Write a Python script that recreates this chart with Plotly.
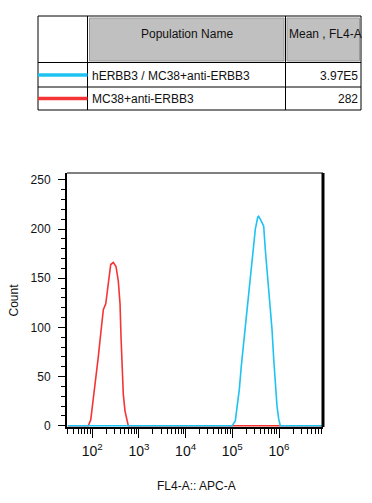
import plotly.graph_objects as go

# ---------------- data ----------------
populations = ["hERBB3 / MC38+anti-ERBB3", "MC38+anti-ERBB3"]
pop_means = ["3.97E5", "282"]
pop_colors = ["#1EC3F2", "#F53535"]
table_headers = ["Population Name", "Mean , FL4-A"]

# MC38+anti-ERBB3 histogram (FL4-A value, count)
red_x = [30, 82.5, 93, 100, 111, 121, 135, 147, 160, 173, 195, 211, 229, 249,
         283, 323, 362, 394, 414, 435, 463, 504, 548, 593, 8.7e6]
red_y = [0, 0, 6, 18, 32, 49, 70, 87, 103, 118, 124, 137, 154, 164,
         166, 162, 147, 124, 90, 63, 32, 15, 5, 0, 0]

# hERBB3 / MC38+anti-ERBB3 histogram
blue_x = [30, 98600, 115900, 126100, 141300, 155900, 175500, 196500, 224400,
          251400, 287000, 310900, 350000, 367600, 417600, 470100, 509200,
          573000, 651600, 708200, 770400, 834000, 906000, 985000, 1067000, 8.7e6]
blue_y = [0, 0, 5, 17, 37, 61, 85, 108, 132, 156, 186, 200, 212, 213, 208,
          203, 179, 152, 125, 98, 68, 44, 20, 7, 0, 0]

x_tickvals = [1e2, 1e3, 1e4, 1e5, 1e6]
x_ticktext = ["10<sup>2</sup>", "10<sup>3</sup>", "10<sup>4</sup>",
              "10<sup>5</sup>", "10<sup>6</sup>"]
y_tickvals = [0, 50, 100, 150, 200, 250]

# ---------------- layout geometry ----------------
W, H = 372, 503
L, R, T, B = 67, 323, 173, 427


def px_x(x):
    return (x - L) / (R - L)


def px_y(y):
    return (B - y) / (B - T)


FONT = "Liberation Sans, Arial, sans-serif"

fig = go.Figure()
# red first, cyan on top (as in reference)
fig.add_trace(go.Scatter(x=red_x, y=red_y, mode="lines",
                         line=dict(color=pop_colors[1], width=1.6),
                         name=populations[1], showlegend=False))
fig.add_trace(go.Scatter(x=blue_x, y=blue_y, mode="lines",
                         line=dict(color=pop_colors[0], width=1.6),
                         name=populations[0], showlegend=False))

minor_x = [d * 10 ** k for k in range(1, 7) for d in range(2, 10)]

shapes = []
annotations = []

# plot frame: thin top, thick right
shapes.append(dict(type="line", xref="paper", yref="paper", x0=0, x1=1, y0=1, y1=1,
                   line=dict(color="black", width=1)))
shapes.append(dict(type="line", xref="paper", yref="paper", x0=1, x1=1, y0=0, y1=1,
                   line=dict(color="black", width=3)))

# ---------------- table ----------------
tx0, tx1 = 38, 361
c1, c2 = 87.5, 285.5
ty0, th, tr1, ty1 = 16, 62.5, 87, 110
row_y = [75, 98.5]

# header gray cells
for (gx0, gx1) in [(89.5, 284), (287, 359.5)]:
    shapes.append(dict(type="rect", xref="paper", yref="paper",
                       x0=px_x(gx0), x1=px_x(gx1), y0=px_y(18), y1=px_y(61),
                       fillcolor="#C0C0C0", line=dict(color="#9A9A9A", width=1)))

shapes.append(dict(type="rect", xref="paper", yref="paper",
                   x0=px_x(tx0), x1=px_x(tx1), y0=px_y(ty0), y1=px_y(ty1),
                   line=dict(color="black", width=1)))
for xv in [c1, c2]:
    shapes.append(dict(type="line", xref="paper", yref="paper",
                       x0=px_x(xv), x1=px_x(xv), y0=px_y(ty0), y1=px_y(ty1),
                       line=dict(color="black", width=1)))
for yv in [th, tr1]:
    shapes.append(dict(type="line", xref="paper", yref="paper",
                       x0=px_x(tx0), x1=px_x(tx1), y0=px_y(yv), y1=px_y(yv),
                       line=dict(color="black", width=1)))

annotations.append(dict(text=table_headers[0], xref="paper", yref="paper",
                        x=px_x(187), y=px_y(33.5), xanchor="center", yanchor="middle",
                        showarrow=False, font=dict(family=FONT, size=12, color="#111")))
annotations.append(dict(text=table_headers[1], xref="paper", yref="paper",
                        x=px_x(286.5), y=px_y(33.5), xanchor="left", yanchor="middle",
                        showarrow=False, font=dict(family=FONT, size=12, color="#111")))

for i, (name, mean, col) in enumerate(zip(populations, pop_means, pop_colors)):
    yy = row_y[i]
    shapes.append(dict(type="line", xref="paper", yref="paper",
                       x0=px_x(tx0), x1=px_x(c1), y0=px_y(yy), y1=px_y(yy),
                       line=dict(color=col, width=3.5)))
    annotations.append(dict(text=name, xref="paper", yref="paper",
                            x=px_x(89.5), y=px_y(yy + 0.5), xanchor="left", yanchor="middle",
                            showarrow=False, font=dict(family=FONT, size=12, color="#111")))
    annotations.append(dict(text=mean, xref="paper", yref="paper",
                            x=px_x(359.5), y=px_y(yy + 0.5), xanchor="right", yanchor="middle",
                            showarrow=False, font=dict(family=FONT, size=12, color="#111")))

# axis titles as annotations
annotations.append(dict(text="FL4-A:: APC-A", xref="paper", yref="paper",
                        x=px_x(196), y=px_y(486), xanchor="center", yanchor="middle",
                        showarrow=False, font=dict(family=FONT, size=12, color="#111")))
annotations.append(dict(text="Count", xref="paper", yref="paper", textangle=-90,
                        x=px_x(13.5), y=px_y(300), xanchor="center", yanchor="middle",
                        showarrow=False, font=dict(family=FONT, size=12, color="#111")))

fig.update_layout(
    width=W, height=H,
    margin=dict(l=L, r=W - R, t=T, b=H - B, pad=0, autoexpand=False),
    paper_bgcolor="white", plot_bgcolor="white",
    font=dict(family=FONT, size=12, color="#111"),
    showlegend=False,
    shapes=shapes,
    annotations=annotations,
    xaxis=dict(
        type="log", range=[1.46, 6.942], automargin=False,
        tickmode="array", tickvals=x_tickvals, ticktext=x_ticktext,
        ticks="outside", ticklen=9, tickwidth=1, tickcolor="black",
        tickfont=dict(family=FONT, size=14, color="#111"),
        ticklabelstandoff=1,
        minor=dict(tickmode="array", tickvals=minor_x, ticks="outside",
                   ticklen=5, tickwidth=1, tickcolor="black", showgrid=False),
        showline=True, linecolor="black", linewidth=2,
        showgrid=False, zeroline=False,
    ),
    yaxis=dict(
        range=[-1.2, 257], automargin=False,
        tickmode="array", tickvals=y_tickvals,
        ticks="outside", ticklen=7, tickwidth=1, tickcolor="black",
        tickfont=dict(family=FONT, size=12, color="#111"),
        ticklabelstandoff=5,
        minor=dict(dtick=10, ticks="outside", ticklen=4, tickwidth=1,
                   tickcolor="black", showgrid=False),
        showline=True, linecolor="black", linewidth=2,
        showgrid=False, zeroline=False,
    ),
)

fig.write_html(
    "out.html",
    config={"displayModeBar": False},
    post_script="document.body.style.margin='0';document.body.style.padding='0';",
)
